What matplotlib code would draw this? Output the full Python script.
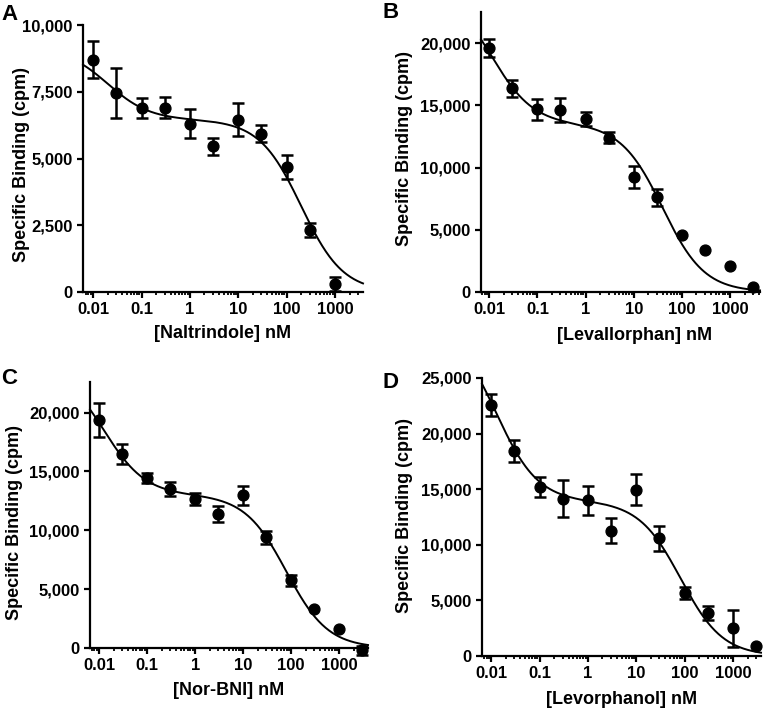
import numpy as np
import matplotlib
matplotlib.use("Agg")
import matplotlib.pyplot as plt
from matplotlib.ticker import FixedLocator, LogLocator, NullFormatter, FuncFormatter

plt.rcParams['font.family'] = ['Liberation Sans', 'DejaVu Sans']
plt.rcParams['font.weight'] = 'bold'

# concentrations (nM)
conc = [0.01, 0.03, 0.1, 0.3, 1, 3, 10, 30, 100, 300, 1000]
conc_b = [0.01, 0.03, 0.1, 0.3, 1, 3, 10, 30, 100, 300, 1000, 3000]

# Panel A: Naltrindole
a_vals = [8700, 7450, 6900, 6900, 6300, 5450, 6450, 5920, 4690, 2330, 300]
a_err = [700, 950, 380, 400, 550, 330, 610, 320, 450, 270, 280]
# Panel B: Levallorphan
b_vals = [19600, 16370, 14680, 14630, 13900, 12400, 9260, 7600, 4560, 3410, 2090, 400]
b_err = [750, 700, 850, 950, 580, 420, 870, 650, 0, 0, 0, 0]
# Panel C: Nor-BNI
c_vals = [19400, 16470, 14430, 13500, 12650, 11400, 12990, 9390, 5740, 3340, 1610, -200]
c_err = [1450, 850, 450, 600, 500, 700, 800, 550, 500, 0, 0, 400]
# Panel D: Levorphanol
d_vals = [22540, 18440, 15200, 14160, 14010, 11250, 14970, 10570, 5690, 3890, 2490, 900]
d_err = [1000, 1000, 900, 1700, 1300, 1120, 1400, 1100, 520, 650, 1650, 0]

# two-site competition fit parameters: (high-site amplitude, low-site amplitude, logIC50 high, logIC50 low)
fit_a = (2700, 6450, -1.7, 2.3)
fit_b = (10900, 13500, -1.95, 1.6)
fit_c = (11000, 13000, -1.9, 1.9)
fit_d = (16000, 13900, -1.9, 1.92)

xlabels = ['[Naltrindole] nM', '[Levallorphan] nM', '[Nor-BNI] nM', '[Levorphanol] nM']
panel_letters = ['A', 'B', 'C', 'D']
yticks_a = [0, 2500, 5000, 7500, 10000]
yticks_bc = [0, 5000, 10000, 15000, 20000]
yticks_d = [0, 5000, 10000, 15000, 20000, 25000]
xticks = [0.01, 0.1, 1, 10, 100, 1000]
xtick_labels = ['0.01', '0.1', '1', '10', '100', '1000']

W, H = 766, 710
fig = plt.figure(figsize=(W / 100, H / 100), dpi=100)

# axes boxes in pixels: left, right, top, bottom
boxes = [(83, 363, 25, 292), (481, 760, 12, 292), (90, 368, 382, 648), (482, 761, 378, 656)]
xlims = [(-2.21, 3.58), (-2.17, 3.62), (-2.19, 3.60), (-2.19, 3.58)]
ylims = [(0, 10000), (0, 22500), (0, 22600), (0, 25000)]
ylab_coords = [(-0.19, 0.476), (-0.244, 0.512), (-0.241, 0.472), (-0.247, 0.504)]
xlab_coords = [(0.50, -0.125), (0.55, -0.125), (0.50, -0.128), (0.50, -0.126)]
letter_pos = [(1, 4), (383, 2), (1, 368), (383, 372)]

datasets = [
    (conc, a_vals, a_err, fit_a, yticks_a),
    (conc_b, b_vals, b_err, fit_b, yticks_bc),
    (conc_b, c_vals, c_err, fit_c, yticks_bc),
    (conc_b, d_vals, d_err, fit_d, yticks_d),
]


def two_site(x, hi, lo, c1, c2):
    lx = np.log10(x)
    return hi / (1 + 10 ** (lx - c1)) + lo / (1 + 10 ** (lx - c2))


for i, (xs, ys, es, fit, yt) in enumerate(datasets):
    l, r, t, b = boxes[i]
    ax = fig.add_axes([l / W, (H - b) / H, (r - l) / W, (b - t) / H])
    ax.set_xscale('log')
    x0, x1 = xlims[i]
    ax.set_xlim(10 ** x0, 10 ** x1)
    ax.set_ylim(*ylims[i])
    xx = np.logspace(x0, x1, 400)
    ax.plot(xx, two_site(xx, *fit), color='black', lw=1.4, clip_on=False, zorder=2)
    xa, ya, ea = np.array(xs, float), np.array(ys, float), np.array(es, float)
    m = ea > 0
    cont = ax.errorbar(xa[m], ya[m], yerr=ea[m], fmt='none', ecolor='black', elinewidth=1.8,
                       capsize=4.3, capthick=1.8, zorder=3)
    for art in cont.get_children():
        art.set_clip_on(False)
    ax.plot(xa, ya, 'o', color='black', ms=7.8, zorder=4, clip_on=False)
    for s in ['top', 'right']:
        ax.spines[s].set_visible(False)
    for s in ['left', 'bottom']:
        ax.spines[s].set_linewidth(1.6)
    ax.xaxis.set_major_locator(FixedLocator(xticks))
    ax.set_xticklabels(xtick_labels)
    ax.xaxis.set_minor_locator(LogLocator(base=10, subs=np.arange(2, 10), numticks=20))
    ax.xaxis.set_minor_formatter(NullFormatter())
    ax.set_yticks(yt)
    ax.yaxis.set_major_formatter(FuncFormatter(lambda v, p: f'{int(v):,}'))
    ax.tick_params(axis='both', which='major', direction='out', length=4.5, width=1.6,
                   labelsize=12, pad=3)
    ax.tick_params(axis='x', which='minor', direction='out', length=2.5, width=1.3)
    ax.tick_params(axis='y', which='minor', left=False)
    for lab in ax.get_xticklabels() + ax.get_yticklabels():
        lab.set_fontweight('bold')
    ax.set_ylabel('Specific Binding (cpm)', fontsize=13, fontweight='bold')
    ax.set_xlabel(xlabels[i], fontsize=13, fontweight='bold')
    ax.yaxis.set_label_coords(*ylab_coords[i])
    ax.xaxis.set_label_coords(*xlab_coords[i])
    lx, ly = letter_pos[i]
    fig.text(lx / W, 1 - ly / H, panel_letters[i], fontsize=16, fontweight='bold',
             ha='left', va='top')

fig.savefig('out.png', dpi=100)
